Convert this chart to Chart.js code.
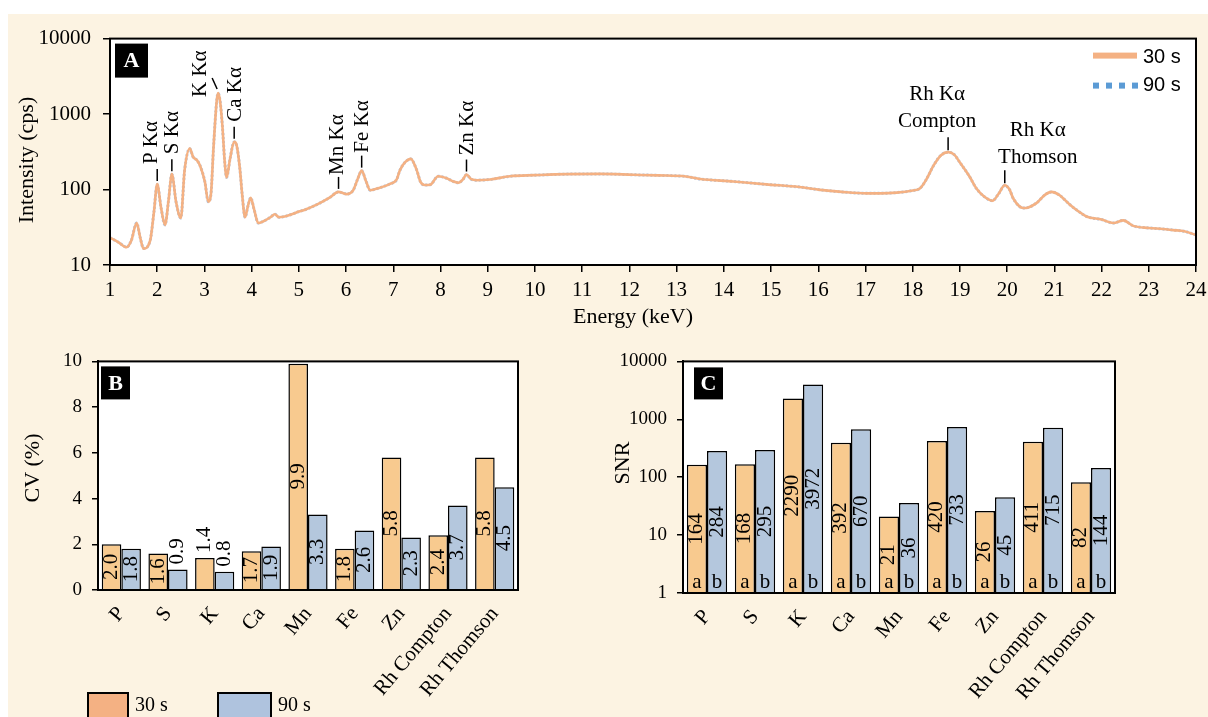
<!DOCTYPE html>
<html>
<head>
<meta charset="utf-8">
<script src="https://cdn.jsdelivr.net/npm/chart.js@4.4.1/dist/chart.umd.min.js"></script>
<style>
  body { margin: 0; background: #fff; width: 1208px; height: 717px; overflow: hidden; position: relative; }
  #bg { position: absolute; left: 8px; top: 14px; width: 1200px; height: 703px; background: #FCF3E2; }
  canvas { position: absolute; }
</style>
</head>
<body>
<div id="bg"></div>
<canvas id="spec" width="1200" height="326" style="left:8px;top:14px"></canvas>
<canvas id="cv" width="590" height="377" style="left:8px;top:340px"></canvas>
<canvas id="snr" width="610" height="377" style="left:598px;top:340px"></canvas>
<script>
// --- spectrum (A) ---
const energy = [1.00, 1.18, 1.35, 1.45, 1.565, 1.64, 1.71, 1.85, 1.93, 2.00,
  2.08, 2.165, 2.24, 2.31, 2.40, 2.50, 2.58, 2.69, 2.76, 2.84,
  2.91, 3.01, 3.08, 3.14, 3.19, 3.26, 3.29, 3.33, 3.38, 3.43,
  3.47, 3.54, 3.63, 3.68, 3.75, 3.80, 3.86, 3.92, 3.98, 4.05,
  4.14, 4.25, 4.40, 4.49, 4.58, 4.70, 4.85, 5.00, 5.13, 5.40,
  5.65, 5.84, 5.93, 6.01, 6.15, 6.25, 6.33, 6.42, 6.51, 6.70,
  6.93, 7.07, 7.14, 7.25, 7.37, 7.49, 7.58, 7.66, 7.78, 7.95,
  8.13, 8.27, 8.38, 8.47, 8.55, 8.65, 8.76, 9.05, 9.47, 10.0,
  10.67, 11.38, 12.08, 12.6, 13.2, 13.5, 14.2, 14.9, 15.6, 16.04,
  16.5, 17.02, 17.31, 17.66, 18.0, 18.15, 18.3, 18.44, 18.6, 18.75,
  18.88, 19.0, 19.2, 19.35, 19.5, 19.69, 19.82, 19.95, 20.05, 20.13,
  20.34, 20.45, 20.62, 20.8, 20.94, 21.1, 21.33, 21.5, 21.68, 22.0,
  22.25, 22.46, 22.67, 23.0, 23.3, 23.52, 23.75, 24.0];
const int30 = [23, 20, 17.2, 21, 36, 23, 16.5, 21, 50, 118,
  58, 34, 72, 160, 68, 42, 180, 350, 270, 245,
  205, 126, 69, 90, 340, 1500, 1900, 1500, 700, 230,
  145, 250, 430, 390, 190, 85, 43, 60, 78, 55,
  36, 38, 43, 47, 43, 44, 47, 51, 54, 64,
  78, 93, 90, 87, 98, 140, 178, 130, 98, 105,
  119, 135, 180, 230, 255, 185, 125, 115, 116, 150,
  141, 128, 123, 135, 158, 137, 133, 136, 150, 155,
  160, 161, 157, 154, 149, 138, 128, 117, 108, 99,
  93, 89, 89, 91, 97, 103, 140, 207, 285, 313,
  290, 228, 150, 103, 82, 71, 88, 114, 100, 76,
  57, 58, 66, 85, 93, 85, 63, 52, 44, 40,
  36, 39, 33, 31, 30, 29, 28, 25];
const int90 = [23, 20, 17.3, 21, 36, 23, 16.6, 21, 50, 117,
  58, 34, 72, 159, 68, 42, 180, 348, 270, 245,
  205, 126, 69, 90, 340, 1500, 1890, 1500, 700, 230,
  145, 250, 428, 390, 190, 85, 43, 60, 78, 55,
  36, 38, 43, 47, 43, 44, 47, 51, 54, 64,
  78, 93, 90, 87, 98, 140, 177, 130, 98, 105,
  119, 135, 180, 230, 254, 185, 125, 115, 116, 150,
  141, 128, 123, 135, 157, 137, 133, 136, 150, 155,
  160, 161, 157, 154, 149, 138, 128, 117, 108, 99,
  93, 89, 89, 91, 97, 103, 140, 207, 285, 312,
  290, 228, 150, 103, 82, 71, 88, 113, 100, 76,
  57, 58, 66, 85, 93, 85, 63, 52, 44, 40,
  36, 39, 33, 31, 30, 29, 28, 25];
const specYTicks = [10, 100, 1000, 10000];

// peak labels (energy of the peak and its intensity, where the tick sits)
const peakNames = ['P Kα', 'S Kα', 'K Kα', 'Ca Kα', 'Mn Kα', 'Fe Kα', 'Zn Kα'];
const peakE = [2.0, 2.31, 3.29, 3.63, 5.84, 6.33, 8.55];
const peakI = [118, 160, 1900, 430, 93, 178, 158];
const scatterNames = [['Rh Kα', 'Compton'], ['Rh Kα', 'Thomson']];
const scatterE = [18.75, 19.95];
const scatterI = [313, 114];

// --- CV (B) and SNR (C) ---
const elements = ['P', 'S', 'K', 'Ca', 'Mn', 'Fe', 'Zn', 'Rh Compton', 'Rh Thomson'];
const cv30 = [2.0, 1.6, 1.4, 1.7, 9.9, 1.8, 5.8, 2.4, 5.8];
const cv90 = [1.8, 0.9, 0.8, 1.9, 3.3, 2.6, 2.3, 3.7, 4.5];
const snr30 = [164, 168, 2290, 392, 21, 420, 26, 411, 82];
const snr90 = [284, 295, 3972, 670, 36, 733, 45, 715, 144];
const snrYTicks = [1, 10, 100, 1000, 10000];
const groupLetters = ['a', 'b'];

const SERIF = '"Liberation Serif", "Times New Roman", serif';
const SANS = '"Liberation Sans", Arial, sans-serif';
const ORANGE_LINE = '#F4B183', BLUE_LINE = '#A9C3E2';
const ORANGE_BAR = '#F8CA8F', BLUE_BAR = '#B4C7DD';

Chart.defaults.font.family = SERIF;
Chart.defaults.color = '#000';
Chart.defaults.animation = false;

const txt = (ctx, s, x, y, o = {}) => {
  ctx.save();
  ctx.font = o.font || `21px ${SERIF}`;
  ctx.fillStyle = o.color || '#000';
  ctx.textAlign = o.align || 'center';
  ctx.textBaseline = o.base || 'middle';
  ctx.translate(x, y);
  if (o.rot) ctx.rotate(o.rot);
  ctx.fillText(s, 0, 0);
  ctx.restore();
};
const whiteArea = {
  id: 'whiteArea',
  beforeDraw(c) {
    const a = c.chartArea, ctx = c.ctx;
    ctx.save(); ctx.fillStyle = '#fff';
    ctx.fillRect(a.left, a.top, a.right - a.left, a.bottom - a.top);
    ctx.restore();
  }
};
const frame = (c) => {
  const a = c.chartArea, ctx = c.ctx;
  ctx.save(); ctx.strokeStyle = '#000'; ctx.lineWidth = 2;
  ctx.strokeRect(a.left, a.top, a.right - a.left, a.bottom - a.top);
  ctx.restore();
};
const panel = (c, letter, dx, dy, w, h) => {
  const a = c.chartArea, ctx = c.ctx;
  ctx.save(); ctx.fillStyle = '#000';
  ctx.fillRect(a.left + dx, a.top + dy, w, h);
  ctx.restore();
  txt(ctx, letter, a.left + dx + w / 2, a.top + dy + h / 2 + 1, { font: `bold 22px ${SERIF}`, color: '#fff' });
};
const tickGrid = { display: true, drawOnChartArea: false, drawTicks: true, color: '#000', lineWidth: 1.5 };
const axBorder = { color: '#000', width: 2 };
const line = (ctx, x1, y1, x2, y2) => {
  ctx.save(); ctx.strokeStyle = '#000'; ctx.lineWidth = 1.5;
  ctx.beginPath(); ctx.moveTo(x1, y1); ctx.lineTo(x2, y2); ctx.stroke(); ctx.restore();
};

// ---------- A ----------
const specDeco = {
  id: 'specDeco',
  afterDatasetsDraw(c) {
    const ctx = c.ctx, xs = c.scales.x, ys = c.scales.y;
    frame(c);
    panel(c, 'A', 5, 5, 33, 34);
    // element peaks
    const dx = [-6, 1, -18, 1, -1, 1, 1], dy = [-20, -20, 4, -20, -17, -18, -19];
    peakNames.forEach((n, i) => {
      const x = xs.getPixelForValue(peakE[i]), y = ys.getPixelForValue(peakI[i]);
      if (i === 2) line(ctx, x - 1, y - 4, x - 6, y - 15);
      else line(ctx, x, y - 3, x, y - 15);
      txt(ctx, n, x + dx[i], y + dy[i], { align: 'left', rot: -Math.PI / 2 });
    });
    // scatter peaks
    const sdx = [-11, 33], sdy = [-58, -55];
    scatterNames.forEach((n, i) => {
      const x = xs.getPixelForValue(scatterE[i]), y = ys.getPixelForValue(scatterI[i]);
      line(ctx, x, y - 2, x, y - 15);
      txt(ctx, n[0], x + sdx[i], y + sdy[i]);
      txt(ctx, n[1], x + sdx[i], y + sdy[i] + 27);
    });
    // legend
    const a = c.chartArea;
    const lx = a.right - 103;
    ctx.save();
    ctx.fillStyle = ORANGE_LINE;
    ctx.fillRect(lx, a.top + 14, 44, 6);
    ctx.fillStyle = '#5B9BD5';
    for (let k = 0; k < 4; k++) ctx.fillRect(lx + k * 13, a.top + 44, 6, 6);
    ctx.restore();
    txt(ctx, '30 s', lx + 50, a.top + 19, { align: 'left', font: `20px ${SANS}` });
    txt(ctx, '90 s', lx + 50, a.top + 47, { align: 'left', font: `20px ${SANS}` });
    // titles
    txt(ctx, 'Intensity (cps)', 19, 146, { rot: -Math.PI / 2, font: `22px ${SERIF}` });
    txt(ctx, 'Energy (keV)', 625, 303, { font: `22px ${SERIF}` });
  }
};

new Chart(document.getElementById('spec'), {
  type: 'line',
  data: {
    datasets: [
      { label: '30 s', data: energy.map((e, i) => ({ x: e, y: int30[i] })), borderColor: ORANGE_LINE,
        borderWidth: 2.6, pointRadius: 0, cubicInterpolationMode: 'monotone' },
      { label: '90 s', data: energy.map((e, i) => ({ x: e, y: int90[i] })), borderColor: BLUE_LINE,
        borderWidth: 3, borderDash: [2, 2], pointRadius: 0, cubicInterpolationMode: 'monotone' }
    ]
  },
  options: {
    responsive: false,
    layout: { padding: { top: 19, right: 12, left: 0, bottom: 0 } },
    plugins: { legend: { display: false }, tooltip: { enabled: false } },
    scales: {
      x: {
        type: 'linear', min: 1, max: 24,
        ticks: { stepSize: 1, font: { size: 21 }, padding: 6, maxRotation: 0, autoSkip: false },
        grid: { ...tickGrid, tickLength: 7 }, border: axBorder,
        afterFit: (s) => { s.height = 75; s.paddingLeft = 0; s.paddingRight = 0; }
      },
      y: {
        type: 'logarithmic', min: 10, max: 10000,
        afterBuildTicks: (s) => { s.ticks = specYTicks.map(v => ({ value: v })); },
        ticks: { font: { size: 21 }, padding: 12, callback: (v) => String(v) },
        grid: { ...tickGrid, tickLength: 7 }, border: axBorder,
        afterFit: (s) => { s.width = 102; }
      }
    }
  },
  plugins: [whiteArea, specDeco]
});

// ---------- B & C ----------
const barLabels = (mode) => ({
  id: 'barLabels' + mode,
  afterDatasetsDraw(c) {
    const ctx = c.ctx;
    frame(c);
    c.data.datasets.forEach((ds, di) => {
      c.getDatasetMeta(di).data.forEach((bar, i) => {
        const v = ds.data[i];
        const s = mode === 'cv' ? v.toFixed(1) : String(v);
        ctx.save(); ctx.font = `21px ${SERIF}`;
        const tw = ctx.measureText(s).width; ctx.restore();
        const h = bar.base - bar.y;
        if (mode === 'cv' && h < tw + 9) {
          txt(ctx, s, bar.x, bar.y - 5, { align: 'left', rot: -Math.PI / 2 });
        } else {
          txt(ctx, s, bar.x, (bar.y + bar.base) / 2, { rot: -Math.PI / 2 });
        }
        if (mode === 'snr') txt(ctx, groupLetters[di], bar.x, bar.base - 11);
      });
    });
  }
});

const cvDeco = {
  id: 'cvDeco',
  afterDraw(c) {
    const ctx = c.ctx;
    panel(c, 'B', 3, 5, 29, 33);
    txt(ctx, 'CV (%)', 25, 128, { rot: -Math.PI / 2, font: `22px ${SERIF}` });
    ctx.save(); ctx.strokeStyle = '#000'; ctx.lineWidth = 2;
    ctx.fillStyle = '#F4B183'; ctx.fillRect(80, 353, 40, 30); ctx.strokeRect(80, 353, 40, 30);
    ctx.fillStyle = '#AFC3DE'; ctx.fillRect(210, 353, 53, 30); ctx.strokeRect(210, 353, 53, 30);
    ctx.restore();
    txt(ctx, '30 s', 127, 366, { align: 'left', font: `20px ${SERIF}` });
    txt(ctx, '90 s', 270, 366, { align: 'left', font: `20px ${SERIF}` });
  }
};
const snrDeco = {
  id: 'snrDeco',
  afterDraw(c) {
    panel(c, 'C', 11, 6, 29, 32);
    txt(c.ctx, 'SNR', 25, 123, { rot: -Math.PI / 2, font: `22px ${SERIF}` });
  }
};

const barSets = (a, b) => [
  { label: '30 s', data: a, backgroundColor: ORANGE_BAR, borderColor: '#000', borderWidth: 1.5,
    categoryPercentage: 0.84, barPercentage: 1.0 },
  { label: '90 s', data: b, backgroundColor: BLUE_BAR, borderColor: '#000', borderWidth: 1.5,
    categoryPercentage: 0.84, barPercentage: 1.0 }
];
const catAxis = (hgt) => ({
  type: 'category',
  ticks: { font: { size: 21 }, minRotation: 50, maxRotation: 50, padding: 4, autoSkip: false },
  grid: { display: false }, border: axBorder,
  afterFit: (s) => { s.height = hgt; s.paddingLeft = 0; s.paddingRight = 0; }
});

new Chart(document.getElementById('cv'), {
  type: 'bar',
  data: { labels: elements, datasets: barSets(cv30, cv90) },
  options: {
    responsive: false,
    layout: { padding: { top: 12, right: 80, left: 0, bottom: 0 } },
    plugins: { legend: { display: false }, tooltip: { enabled: false } },
    scales: {
      x: catAxis(127),
      y: {
        min: 0, max: 10,
        ticks: { stepSize: 2, font: { size: 19 }, padding: 10 },
        grid: { ...tickGrid, tickLength: 6 }, border: axBorder,
        afterFit: (s) => { s.width = 90; }
      }
    }
  },
  plugins: [whiteArea, barLabels('cv'), cvDeco]
});

new Chart(document.getElementById('snr'), {
  type: 'bar',
  data: { labels: elements, datasets: barSets(snr30, snr90) },
  options: {
    responsive: false,
    layout: { padding: { top: 14, right: 93, left: 0, bottom: 0 } },
    plugins: { legend: { display: false }, tooltip: { enabled: false } },
    scales: {
      x: catAxis(124),
      y: {
        type: 'logarithmic', min: 1, max: 10000,
        afterBuildTicks: (s) => { s.ticks = snrYTicks.map(v => ({ value: v })); },
        ticks: { font: { size: 19 }, padding: 10, callback: (v) => String(v) },
        grid: { ...tickGrid, tickLength: 6 }, border: axBorder,
        afterFit: (s) => { s.width = 85; }
      }
    }
  },
  plugins: [whiteArea, barLabels('snr'), snrDeco]
});
</script>
</body>
</html>
